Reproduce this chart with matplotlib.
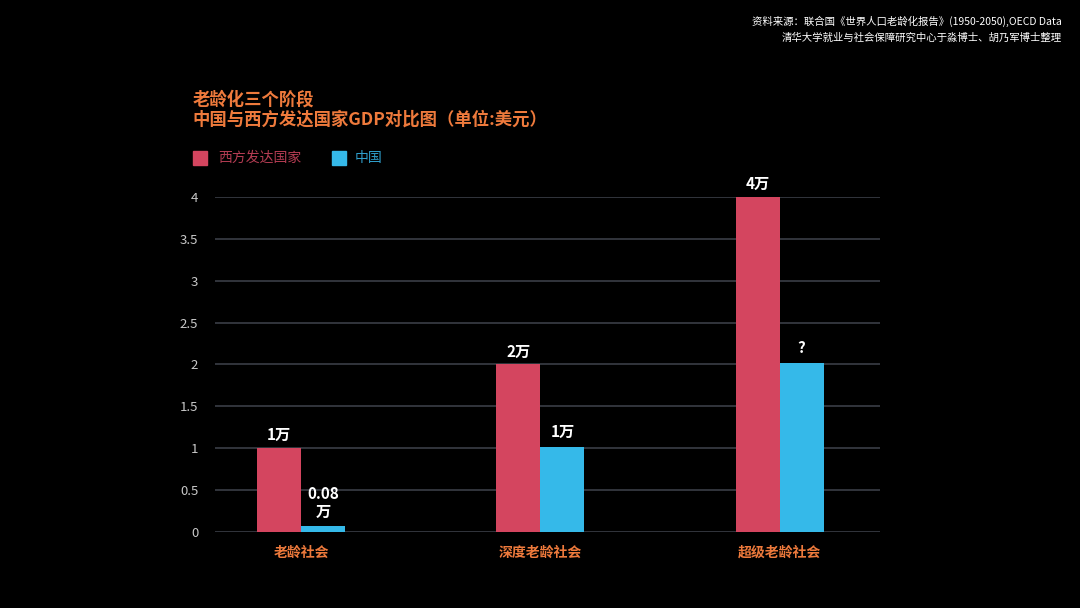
import matplotlib.pyplot as plt
from matplotlib.patches import Rectangle

plt.rcParams['font.family'] = ['Noto Sans CJK SC', 'DejaVu Sans']

# data
stages = ["老龄社会", "深度老龄社会", "超级老龄社会"]
west = [1.0, 2.0, 4.0]
china = [0.07, 1.02, 2.02]
west_labels = ["1万", "2万", "4万"]
china_labels = ["0.08\n万", "1万", "?"]
yticks = [0, 0.5, 1, 1.5, 2, 2.5, 3, 3.5, 4]
ytick_labels = ["0", "0.5", "1", "1.5", "2", "2.5", "3", "3.5", "4"]

RED = "#d4455f"
BLUE = "#35b9e9"
ORANGE = "#ee7a3c"
GRID = "#3a3e46"

fig = plt.figure(figsize=(10.8, 6.08), dpi=100)
fig.patch.set_facecolor("black")
ax = fig.add_axes([0.199, 0.125, 0.616, 0.551])
ax.set_facecolor("black")

x = range(len(stages))
w = 0.184
ax.bar([i - w / 2 for i in x], west, width=w, color=RED, zorder=3)
ax.bar([i + w / 2 for i in x], china, width=w, color=BLUE, zorder=3)

for i in x:
    ax.text(i - w / 2, west[i] + 0.06, west_labels[i], ha="center", va="bottom",
            color="white", fontsize=11, fontweight="bold", clip_on=False)
    ax.text(i + w / 2, china[i] + 0.08, china_labels[i], ha="center", va="bottom",
            color="white", fontsize=11, fontweight="bold", linespacing=1.1, clip_on=False)

ax.set_xlim(-0.36, 2.42)
ax.set_ylim(0, 4)
ax.set_yticks(yticks)
ax.set_yticklabels(ytick_labels)
ax.set_xticks(list(x))
ax.set_xticklabels(stages)
ax.grid(axis="y", color=GRID, linewidth=1.2, zorder=0)
for s in ax.spines.values():
    s.set_visible(False)
ax.tick_params(axis="y", length=0, colors="#c8c8c8", labelsize=9.5, pad=12)
ax.tick_params(axis="x", length=0, colors=ORANGE, labelsize=10, pad=10)
for lab in ax.get_xticklabels():
    lab.set_fontweight("bold")
ax.set_axisbelow(True)

# title
fig.text(0.178, 1 - 110 / 608, "老龄化三个阶段\n中国与西方发达国家GDP对比图（单位:美元）",
         color=ORANGE, fontsize=12.5, fontweight="bold", ha="left", va="center",
         linespacing=1.15)

# legend
fig.patches.append(Rectangle((193 / 1080, 1 - 165 / 608), 14 / 1080, 14 / 608,
                             transform=fig.transFigure, color=RED))
fig.text(218 / 1080, 1 - 158 / 608, "西方发达国家", color="#b33c52", fontsize=10,
         ha="left", va="center")
fig.patches.append(Rectangle((332 / 1080, 1 - 165 / 608), 14 / 1080, 14 / 608,
                             transform=fig.transFigure, color=BLUE))
fig.text(355 / 1080, 1 - 158 / 608, "中国", color="#2f9fcc", fontsize=10,
         ha="left", va="center")

# source
fig.text(1062 / 1080, 1 - 21 / 608, "资料来源：联合国《世界人口老龄化报告》(1950-2050),OECD Data",
         color="white", fontsize=7.5, ha="right", va="center")
fig.text(1062 / 1080, 1 - 38 / 608, "清华大学就业与社会保障研究中心于淼博士、胡乃军博士整理",
         color="white", fontsize=7.5, ha="right", va="center")

fig.savefig("out.png", dpi=100, facecolor="black")
